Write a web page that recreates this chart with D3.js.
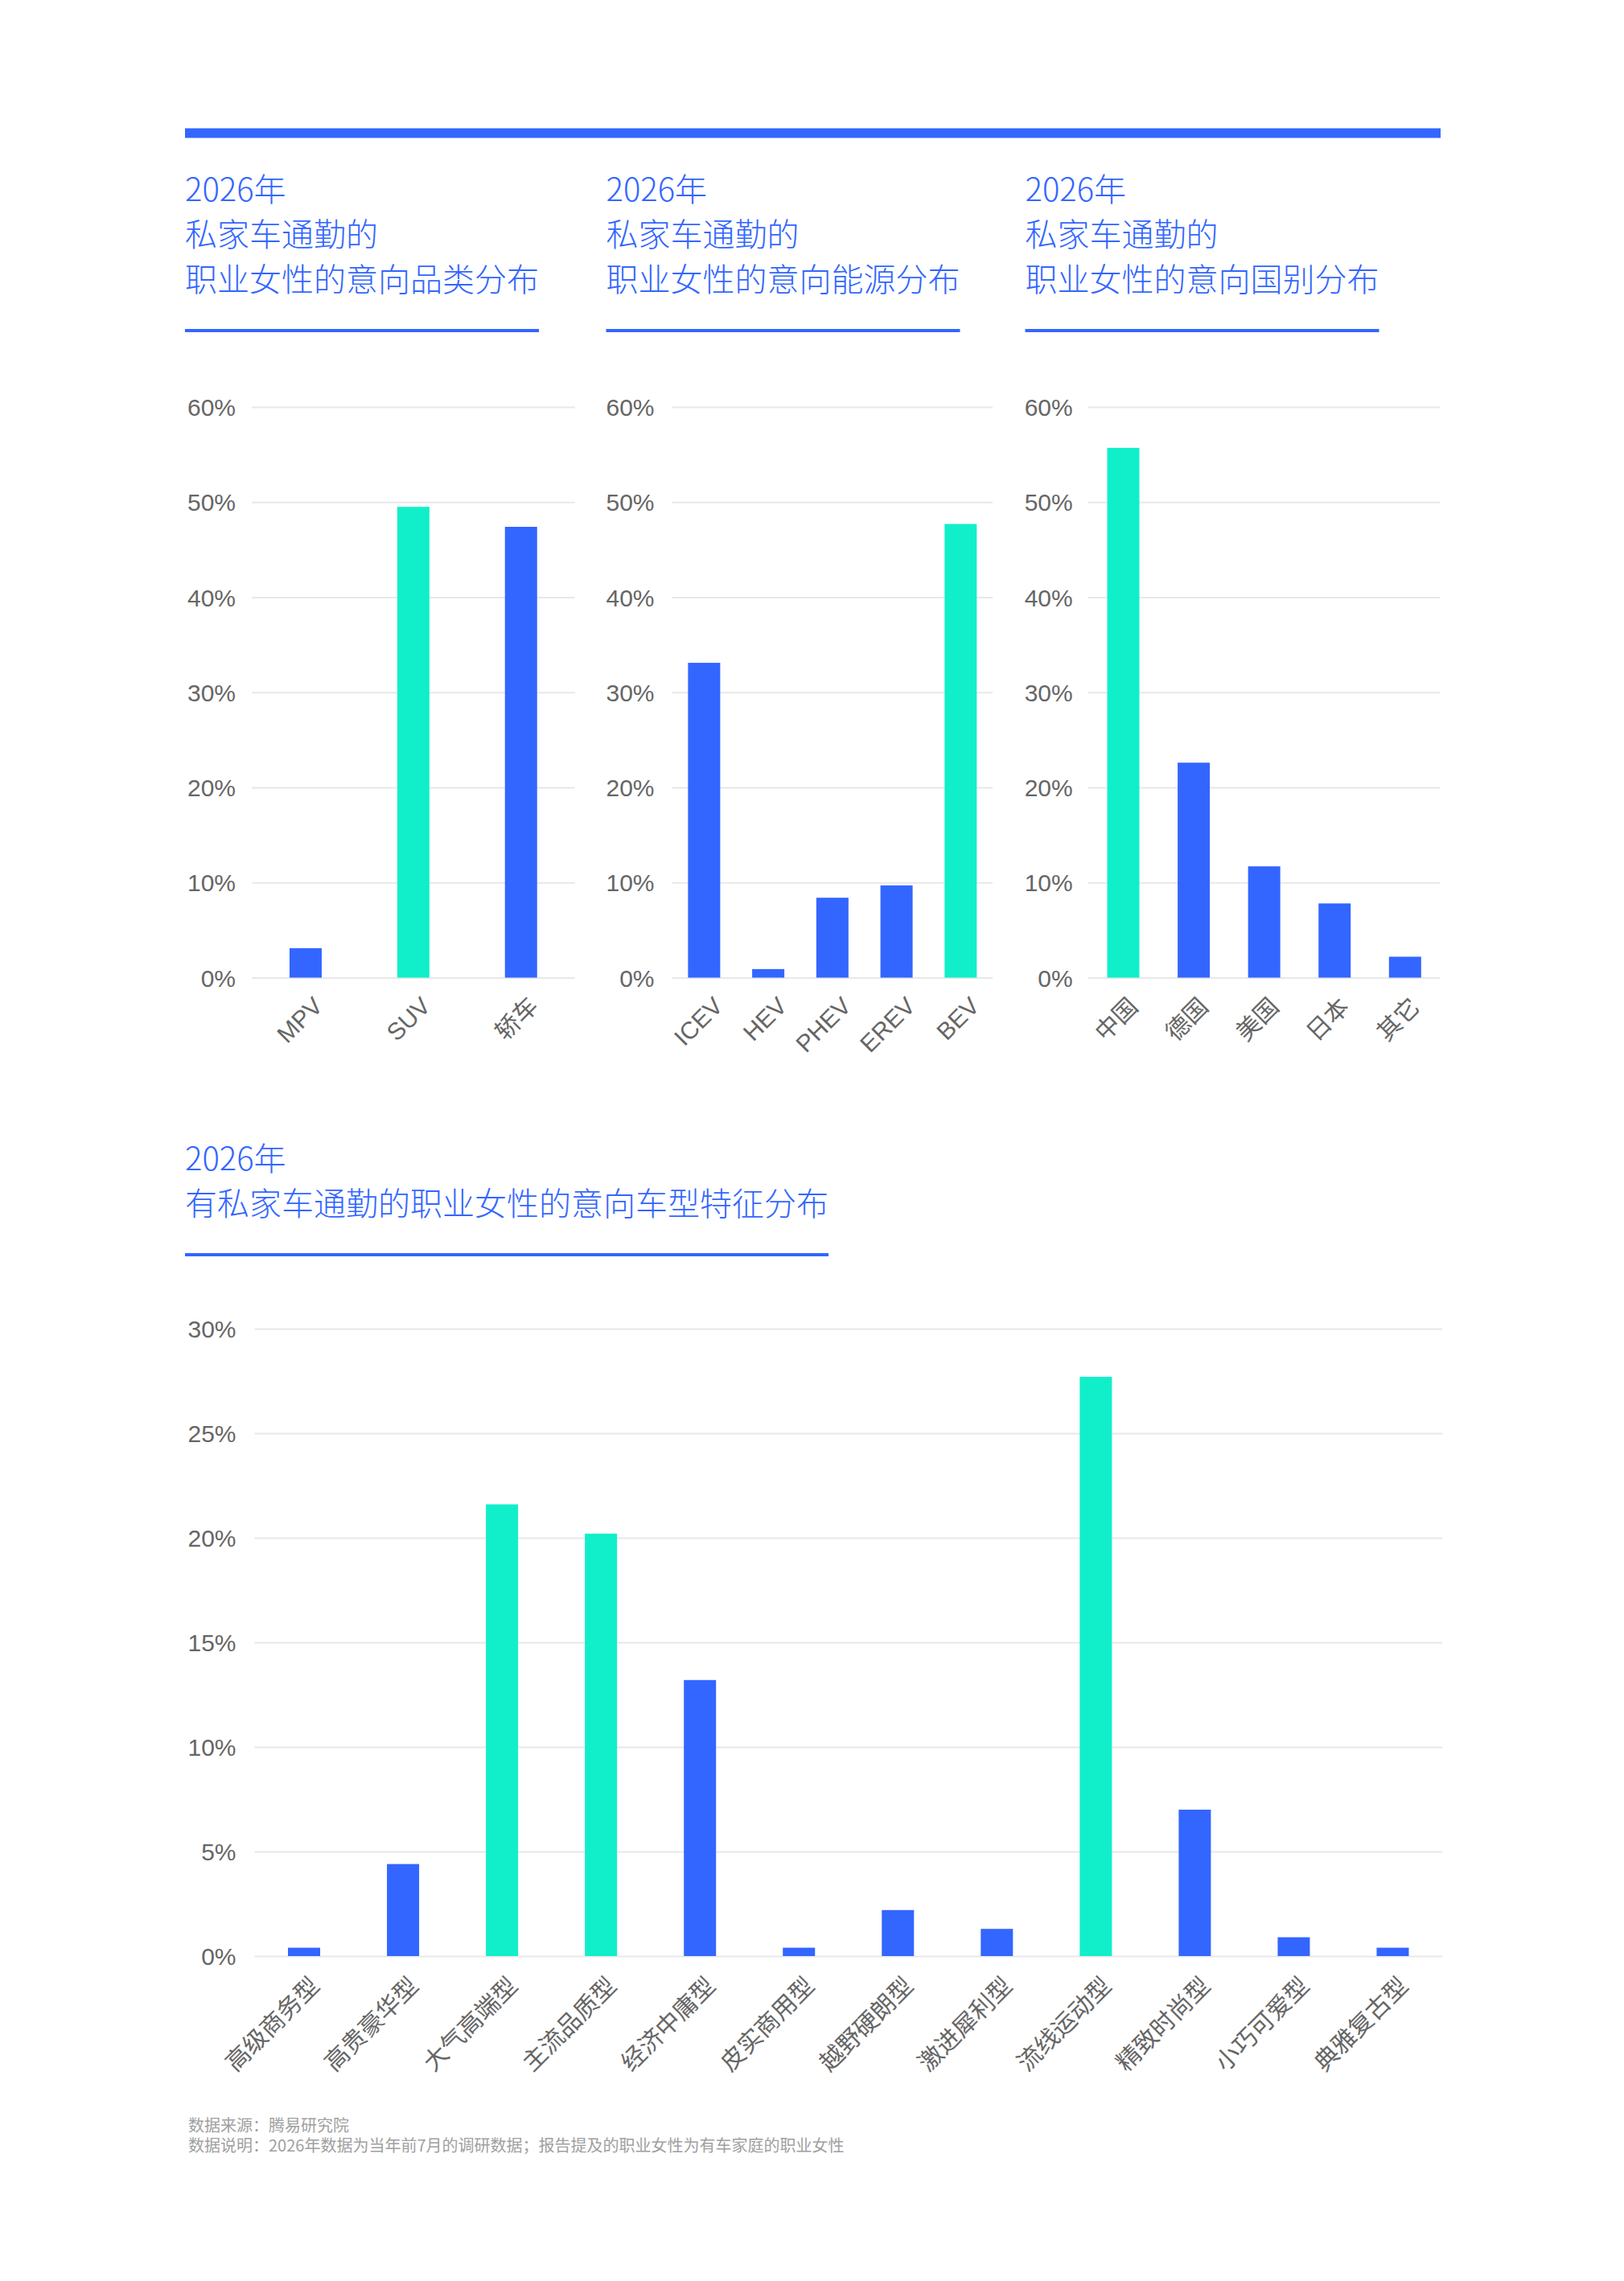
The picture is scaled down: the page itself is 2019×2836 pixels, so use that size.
<!DOCTYPE html>
<html><head><meta charset="utf-8">
<script src="https://cdn.jsdelivr.net/npm/d3@7"></script>
<style>
html,body{margin:0;padding:0;background:#fff;}
svg{display:block;}
</style></head>
<body>
<script>
// ---------------- DATA ----------------
const titleYear = "2026年";
const title1 = ["私家车通勤的", "职业女性的意向品类分布"];
const title2 = ["私家车通勤的", "职业女性的意向能源分布"];
const title3 = ["私家车通勤的", "职业女性的意向国别分布"];
const title4 = ["有私家车通勤的职业女性的意向车型特征分布"];

const typeCats = ["MPV", "SUV", "轿车"];
const typeVals = [3.1, 49.5, 47.4];
const typeHighlight = ["SUV"];

const energyCats = ["ICEV", "HEV", "PHEV", "EREV", "BEV"];
const energyVals = [33.1, 0.9, 8.4, 9.7, 47.7];
const energyHighlight = ["BEV"];

const countryCats = ["中国", "德国", "美国", "日本", "其它"];
const countryVals = [55.7, 22.6, 11.7, 7.8, 2.2];
const countryHighlight = ["中国"];

const styleCats = ["高级商务型", "高贵豪华型", "大气高端型", "主流品质型", "经济中庸型", "皮实商用型",
                   "越野硬朗型", "激进犀利型", "流线运动型", "精致时尚型", "小巧可爱型", "典雅复古型"];
const styleVals = [0.4, 4.4, 21.6, 20.2, 13.2, 0.4, 2.2, 1.3, 27.7, 7.0, 0.9, 0.4];
const styleHighlight = ["大气高端型", "主流品质型", "流线运动型"];

const topTicks = [0, 10, 20, 30, 40, 50, 60];
const bottomTicks = [0, 5, 10, 15, 20, 25, 30];

const footnotes = ["数据来源：腾易研究院",
                   "数据说明：2026年数据为当年前7月的调研数据；报告提及的职业女性为有车家庭的职业女性"];

// ---------------- STYLE ----------------
const BLUE = "#3366ff", TEAL = "#11efca", GRID = "#e8e8e8", TICK = "#666666";
const TITLE_FONT = "'Noto Sans CJK SC','Noto Sans',sans-serif";
const TICK_FONT = "'Liberation Sans','Noto Sans CJK SC',sans-serif";
const BAR_W = 40;

const svg = d3.select("body").append("svg")
  .attr("width", 2019).attr("height", 2836)
  .attr("viewBox", "0 0 2019 2836");

svg.append("rect").attr("width", 2019).attr("height", 2836).attr("fill", "#fff");

// top band
svg.append("rect").attr("x", 230).attr("y", 159.5).attr("width", 1561).attr("height", 12).attr("fill", BLUE);

function drawTitle(x, yBase, lines) {
  const all = [titleYear].concat(lines);
  const g = svg.append("g");
  const t = g.append("text")
    .attr("font-family", TITLE_FONT).attr("font-weight", 300)
    .attr("font-size", 40).attr("fill", BLUE);
  all.forEach((s, i) => {
    t.append("tspan").attr("x", x).attr("y", yBase + i * 56).text(s);
  });
  let maxW = 0;
  t.selectAll("tspan").each(function () { maxW = Math.max(maxW, this.getComputedTextLength()); });
  const uy = yBase + (all.length - 1) * 56 + 47;
  g.append("rect").attr("x", x).attr("y", uy).attr("width", maxW).attr("height", 4).attr("fill", BLUE);
}

drawTitle(230, 250, title1);
drawTitle(753.5, 250, title2);
drawTitle(1274.5, 250, title3);
drawTitle(230, 1455, title4);

function drawChart(cfg) {
  const { cats, vals, hi, x0, x1, y0, y1, ticks, max, labelGap, ldx, ldy } = cfg;
  const n = cats.length;
  const step = (x1 - x0) / n;
  const pin = 1 - BAR_W / step;
  const x = d3.scaleBand().domain(cats).range([x0, x1]).paddingInner(pin).paddingOuter(pin / 2);
  const y = d3.scaleLinear().domain([0, max]).range([y0, y1]);
  const g = svg.append("g");

  const yAxis = d3.axisLeft(y).tickValues(ticks).tickSize(-(x1 - x0)).tickPadding(labelGap)
    .tickFormat(d => d + "%");
  const ya = g.append("g").attr("transform", `translate(${x0},0)`).call(yAxis);
  ya.select(".domain").remove();
  ya.selectAll(".tick line").attr("stroke", GRID).attr("stroke-width", 2);
  ya.selectAll(".tick text").attr("fill", TICK).attr("font-size", 30)
    .attr("font-family", TICK_FONT).attr("dy", "0.35em");

  g.selectAll("rect.bar").data(cats).join("rect").attr("class", "bar")
    .attr("x", d => x(d)).attr("width", x.bandwidth())
    .attr("y", (d, i) => y(vals[i])).attr("height", (d, i) => y0 - y(vals[i]))
    .attr("fill", d => hi.includes(d) ? TEAL : BLUE);

  const xAxis = d3.axisBottom(x).tickSize(0).tickPadding(0);
  const xa = g.append("g").attr("transform", `translate(0,${y0})`).call(xAxis);
  xa.select(".domain").remove();
  xa.selectAll(".tick text")
    .attr("fill", TICK).attr("font-size", 30).attr("font-family", TICK_FONT)
    .attr("text-anchor", "end").attr("dy", 0).attr("y", 0)
    .attr("transform", `translate(${ldx},${ldy}) rotate(-45)`);
}

const topY0 = 1215.5, topY1 = 506;
drawChart({ cats: typeCats, vals: typeVals, hi: typeHighlight, x0: 313, x1: 714.7, y0: topY0, y1: topY1,
  ticks: topTicks, max: 60, labelGap: 20, ldx: 23, ldy: 37 });
drawChart({ cats: energyCats, vals: energyVals, hi: energyHighlight, x0: 835.5, x1: 1234.2, y0: topY0, y1: topY1,
  ticks: topTicks, max: 60, labelGap: 22, ldx: 25, ldy: 37 });
drawChart({ cats: countryCats, vals: countryVals, hi: countryHighlight, x0: 1352.7, x1: 1790.6, y0: topY0, y1: topY1,
  ticks: topTicks, max: 60, labelGap: 19, ldx: 20, ldy: 38 });
drawChart({ cats: styleCats, vals: styleVals, hi: styleHighlight, x0: 316.5, x1: 1793, y0: 2432, y1: 1652,
  ticks: bottomTicks, max: 30, labelGap: 23, ldx: 21, ldy: 39 });

const fn = svg.append("text").attr("font-family", TITLE_FONT).attr("font-size", 20).attr("fill", "#a0a0a0");
footnotes.forEach((s, i) => fn.append("tspan").attr("x", 234).attr("y", 2650 + i * 25).text(s));
</script>
</body></html>
